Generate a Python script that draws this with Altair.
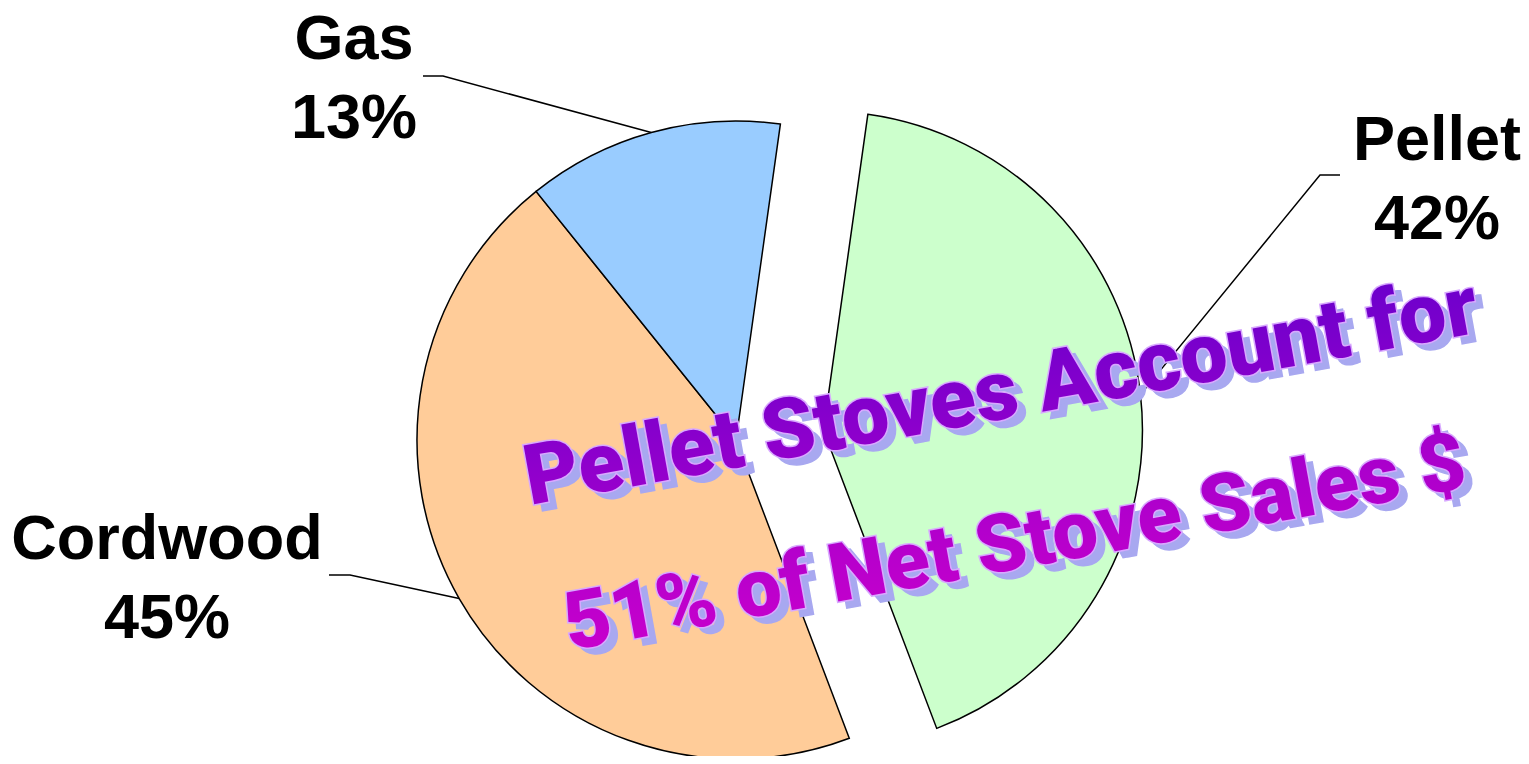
import math
import altair as alt
import pandas as pd

# ---------------- data ----------------
categories = ["Pellet", "Cordwood", "Gas"]
values = [42, 45, 13]
colors = ["#CCFFCC", "#FFCC99", "#99CCFF"]
headline = ["Pellet Stoves Account for", "51% of Net Stove Sales $"]

# ---------------- layout (page pixels, chart origin at page margin) ----------------
PAGE = 8
W, H = 1513, 748
CX, CY, R = 736 - PAGE, 440 - PAGE, 319
START_DEG = 8.0
EXPLODE_CAT, EXPLODE_DIST = "Pellet", 88
LABEL_ANCHOR = {"Pellet": (1437, 160), "Cordwood": (167, 559), "Gas": (354, 59)}
LINE_GAP = 79
LEADER_ELBOW = {
    "Pellet": ((1340, 175), (1320, 175)),
    "Cordwood": ((329, 575), (350, 575)),
    "Gas": ((423, 76), (443, 76)),
}
HEAD_POS = [(1001, 394), (1015, 545)]
HEAD_SIZES = [84, 81]
HEAD_ANGLE = 349.7
HEAD_FONT = "Roboto, Liberation Sans, sans-serif"
LABEL_FONT = "Liberation Sans, Arial, sans-serif"
LABEL_SIZE = 63

start_rad = math.radians(START_DEG)
total = sum(values)

pie_df = pd.DataFrame({"category": categories, "value": values, "order": list(range(len(categories)))})

# leader lines and labels derived from the values
lead_rows, label_rows = [], []
cum = 0.0
for cat, v in zip(categories, values):
    mid = start_rad + 2 * math.pi * (cum + v / 2) / total
    cum += v
    ex = EXPLODE_DIST if cat == EXPLODE_CAT else 0
    cx = CX + ex * math.sin(mid)
    cy = CY - ex * math.cos(mid)
    px, py = cx + R * math.sin(mid), cy - R * math.cos(mid)
    (ax, ay), (bx, by) = LEADER_ELBOW[cat]
    pts = [(ax - PAGE, ay - PAGE), (bx - PAGE, by - PAGE), (px, py)]
    for i, (x, y) in enumerate(pts):
        lead_rows.append({"category": cat, "seq": i, "x": x, "y": y})
    lx, ly = LABEL_ANCHOR[cat]
    pct = f"{round(v / total * 100)}%"
    label_rows.append({"text": cat, "x": lx - PAGE, "y": ly - PAGE})
    label_rows.append({"text": pct, "x": lx - PAGE, "y": ly - PAGE + LINE_GAP})

lead_df = pd.DataFrame(lead_rows)
label_df = pd.DataFrame(label_rows)

pie = (
    alt.Chart(pie_df)
    .transform_joinaggregate(total="sum(value)")
    .transform_window(cum="sum(value)", sort=[alt.SortField("order")], frame=[None, 0])
    .transform_calculate(
        mid=f"{start_rad} + 2*PI*(datum.cum - datum.value/2)/datum.total",
        ex=f"datum.category == '{EXPLODE_CAT}' ? {EXPLODE_DIST} : 0",
    )
    .transform_calculate(
        cx=f"{CX} + datum.ex*sin(datum.mid)",
        cy=f"{CY} - datum.ex*cos(datum.mid)",
    )
    .mark_arc(outerRadius=R, stroke="black", strokeWidth=1.5)
    .encode(
        theta=alt.Theta("value:Q", stack=True,
                        scale=alt.Scale(range=[start_rad, start_rad + 2 * math.pi])),
        order=alt.Order("order:Q"),
        color=alt.Color("category:N", scale=alt.Scale(domain=categories, range=colors), legend=None),
        x=alt.X("cx:Q", scale=None, axis=None),
        y=alt.Y("cy:Q", scale=None, axis=None),
    )
)

leaders = (
    alt.Chart(lead_df)
    .mark_line(color="black", strokeWidth=1.5)
    .encode(
        x=alt.X("x:Q", scale=None, axis=None),
        y=alt.Y("y:Q", scale=None, axis=None),
        detail="category:N",
        order="seq:Q",
    )
)

labels = (
    alt.Chart(label_df)
    .mark_text(font=LABEL_FONT, fontWeight="bold", fontSize=LABEL_SIZE, align="center",
               baseline="alphabetic", color="black")
    .encode(
        x=alt.X("x:Q", scale=None, axis=None),
        y=alt.Y("y:Q", scale=None, axis=None),
        text="text:N",
    )
)

grads = [
    ["#A000CC", "#6600CC"],
    ["#CC00CC", "#A000CC"],
]

head_layers = []
for i, line in enumerate(headline):
    hx, hy = HEAD_POS[i]
    hdf = pd.DataFrame({"text": [line], "x": [hx - PAGE], "y": [hy - PAGE]})
    base = alt.Chart(hdf).encode(
        x=alt.X("x:Q", scale=None, axis=None),
        y=alt.Y("y:Q", scale=None, axis=None),
        text="text:N",
    )
    common = dict(font=HEAD_FONT, fontWeight=900, fontSize=HEAD_SIZES[i],
                  align="center", baseline="middle", angle=HEAD_ANGLE)
    shadow = base.mark_text(dx=7, dy=8, fill="#A8A8F0", stroke="#A8A8F0", strokeWidth=1.5, **common)
    outline = base.mark_text(fill="#D8A8FF", stroke="#D8A8FF", strokeWidth=3, **common)
    grad = {
        "gradient": "linear", "x1": 0, "y1": 1, "x2": 1, "y2": 0,
        "stops": [{"offset": 0, "color": grads[i][0]}, {"offset": 1, "color": grads[i][1]}],
    }
    main = base.mark_text(fill=grad, **common)
    head_layers += [shadow, outline, main]

chart = (
    alt.layer(pie, leaders, labels, *head_layers)
    .properties(width=W, height=H, autosize=alt.AutoSizeParams(type="none"), padding=0)
    .configure_view(stroke=None)
)

chart.save("out.html", embed_options={"renderer": "svg", "actions": False})
